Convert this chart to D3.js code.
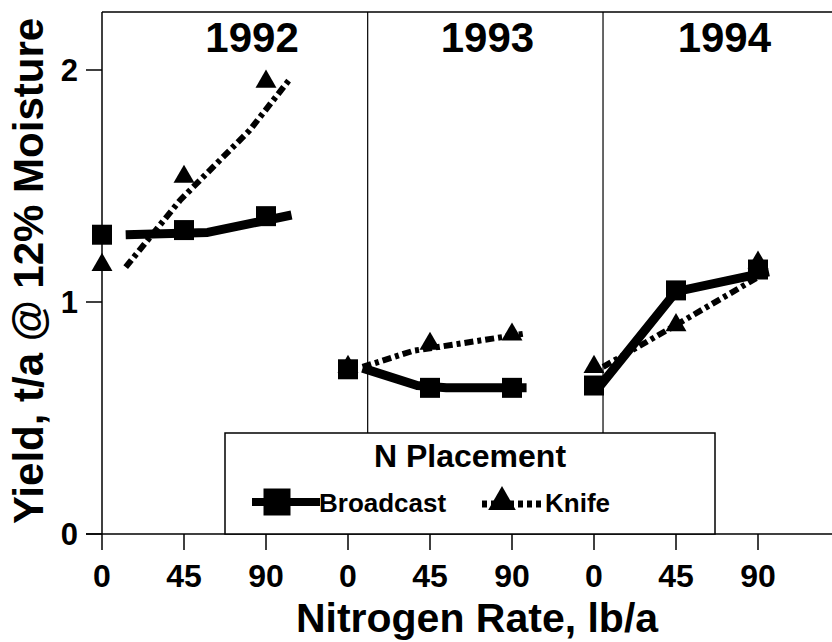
<!DOCTYPE html>
<html>
<head>
<meta charset="utf-8">
<title>Yield vs Nitrogen Rate</title>
<script src="https://d3js.org/d3.v7.min.js"></script>
<style>
  body { margin: 0; background: #fff; }
  text { font-family: "Liberation Sans", Arial, sans-serif; fill: #000; }
</style>
</head>
<body>
<div id="chart"></div>
<script>
// years and the N rates shown under each year
const years = ["1992", "1993", "1994"];
const rates = [0, 45, 90];

// measured yields (t/a), 3 rates per year
const broadcastYield = [1.29, 1.31, 1.37, 0.71, 0.63, 0.63, 0.64, 1.05, 1.14];
const knifeYield = [1.16, 1.54, 1.95, 0.72, 0.82, 0.86, 0.72, 0.90, 1.17];

// fitted response lines, [rate lb/a, yield] for each year
const broadcastFit = [
  [[13, 1.29], [58, 1.30], [104, 1.375]],
  [[8, 0.715], [38, 0.64], [54, 0.63], [98, 0.63]],
  [[3, 0.635], [45, 1.045], [96, 1.13]]
];
const knifeFit = [
  [[13, 1.15], [43, 1.44], [81, 1.74], [103, 1.96]],
  [[8, 0.72], [36, 0.79], [61, 0.82], [98, 0.865]],
  [[5, 0.72], [47, 0.91], [95, 1.13]]
];

const yTicks = [0, 1, 2];

const W = 832, H = 642;
const svg = d3.select("#chart").append("svg")
  .attr("width", W).attr("height", H);

// x is a slot position: year index * 3 + rate / 45
const pos = (yi, rate) => yi * 3 + rate / 45;
const x = d3.scaleLinear().domain([0, 8]).range([102, 758]);
const y = d3.scaleLinear().domain([0, 2]).range([534, 70]);
const xEnd = x.invert(832);
const yTop = 2.25;

// frame: top line, y axis, x axis
svg.append("line")
  .attr("x1", x(0)).attr("x2", x(xEnd)).attr("y1", y(yTop)).attr("y2", y(yTop))
  .attr("stroke", "#000").attr("stroke-width", 1.5);
svg.append("line")
  .attr("x1", x(0)).attr("x2", x(0)).attr("y1", y(yTop)).attr("y2", y(0))
  .attr("stroke", "#000").attr("stroke-width", 1.5);
svg.append("line")
  .attr("x1", x(0) - 16).attr("x2", x(xEnd)).attr("y1", y(0)).attr("y2", y(0))
  .attr("stroke", "#000").attr("stroke-width", 1.5);

// year dividers
[3.24, 6.11].forEach(d => {
  svg.append("line")
    .attr("x1", x(d)).attr("x2", x(d)).attr("y1", y(yTop)).attr("y2", y(0))
    .attr("stroke", "#000").attr("stroke-width", 1.2);
});

// y ticks
yTicks.forEach(t => {
  svg.append("line")
    .attr("x1", x(0) - 16).attr("x2", x(0)).attr("y1", y(t)).attr("y2", y(t))
    .attr("stroke", "#000").attr("stroke-width", 1.5);
  svg.append("text")
    .attr("x", 78).attr("y", y(t) + 11)
    .attr("text-anchor", "end")
    .attr("font-size", 31).attr("font-weight", "bold")
    .text(t);
});

// x ticks
years.forEach((yr, yi) => {
  rates.forEach(r => {
    const px = x(pos(yi, r));
    svg.append("line")
      .attr("x1", px).attr("x2", px).attr("y1", y(0)).attr("y2", y(0) + 16)
      .attr("stroke", "#000").attr("stroke-width", 1.5);
    svg.append("text")
      .attr("x", px).attr("y", 587)
      .attr("text-anchor", "middle")
      .attr("font-size", 32).attr("font-weight", "bold")
      .text(r);
  });
});

// year titles
[1.83, 4.7, 7.59].forEach((p, i) => {
  svg.append("text")
    .attr("x", x(p)).attr("y", 52)
    .attr("text-anchor", "middle")
    .attr("font-size", 42).attr("font-weight", "bold")
    .text(years[i]);
});

// axis titles
svg.append("text")
  .attr("x", 477).attr("y", 632)
  .attr("text-anchor", "middle")
  .attr("font-size", 41).attr("font-weight", "bold")
  .text("Nitrogen Rate, lb/a");
svg.append("text")
  .attr("transform", "translate(43,271) rotate(-90)")
  .attr("text-anchor", "middle")
  .attr("font-size", 42).attr("font-weight", "bold")
  .text("Yield, t/a @ 12% Moisture");

// fitted lines
const line = d3.line()
  .x(d => x(d[0]))
  .y(d => y(d[1]));

knifeFit.forEach((seg, yi) => {
  svg.append("path")
    .datum(seg.map(d => [pos(yi, d[0]), d[1]]))
    .attr("d", line)
    .attr("fill", "none").attr("stroke", "#000")
    .attr("stroke-width", 6).attr("stroke-dasharray", "9,4,4,4");
});
broadcastFit.forEach((seg, yi) => {
  svg.append("path")
    .datum(seg.map(d => [pos(yi, d[0]), d[1]]))
    .attr("d", line)
    .attr("fill", "none").attr("stroke", "#000")
    .attr("stroke-width", 9).attr("stroke-linejoin", "round");
});

// markers
const tri = d3.symbol().type(d3.symbolTriangle).size(190);
const sq = d3.symbol().type(d3.symbolSquare).size(400);
const pts = [];
years.forEach((yr, yi) => rates.forEach((r, ri) => pts.push({ p: pos(yi, r), i: yi * 3 + ri })));

svg.selectAll(".knife").data(pts).join("path")
  .attr("class", "knife")
  .attr("d", tri)
  .attr("transform", d => `translate(${x(d.p)},${y(knifeYield[d.i])})`)
  .attr("fill", "#000");
svg.selectAll(".bc").data(pts).join("path")
  .attr("class", "bc")
  .attr("d", sq)
  .attr("transform", d => `translate(${x(d.p)},${y(broadcastYield[d.i])})`)
  .attr("fill", "#000");

// legend
const lg = svg.append("g");
lg.append("rect")
  .attr("x", 225).attr("y", 433).attr("width", 490).attr("height", y(0) - 433)
  .attr("fill", "#fff").attr("stroke", "#000").attr("stroke-width", 1.5);
lg.append("text")
  .attr("x", 470).attr("y", 467)
  .attr("text-anchor", "middle")
  .attr("font-size", 32).attr("font-weight", "bold")
  .text("N Placement");
lg.append("line")
  .attr("x1", 252).attr("x2", 320).attr("y1", 502).attr("y2", 502)
  .attr("stroke", "#000").attr("stroke-width", 8);
lg.append("path")
  .attr("d", d3.symbol().type(d3.symbolSquare).size(729))
  .attr("transform", "translate(277,502)");
lg.append("text")
  .attr("x", 319).attr("y", 512)
  .attr("font-size", 26).attr("font-weight", "bold")
  .text("Broadcast");
lg.append("line")
  .attr("x1", 482).attr("x2", 545).attr("y1", 504).attr("y2", 504)
  .attr("stroke", "#000").attr("stroke-width", 7).attr("stroke-dasharray", "5,4");
lg.append("path")
  .attr("d", d3.symbol().type(d3.symbolTriangle).size(330))
  .attr("transform", "translate(502,502)");
lg.append("text")
  .attr("x", 545).attr("y", 512)
  .attr("font-size", 26).attr("font-weight", "bold")
  .text("Knife");
</script>
</body>
</html>
